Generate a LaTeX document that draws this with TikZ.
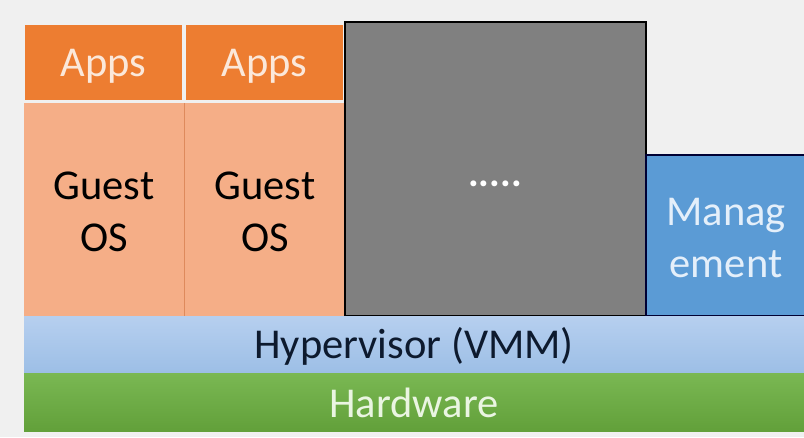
\documentclass[tikz,border=0pt]{standalone}
\usepackage{fontspec}
\setmainfont{Carlito}
\definecolor{bgc}{HTML}{F0F0F0}
\definecolor{appsc}{HTML}{ED7D31}
\definecolor{appstxt}{HTML}{FBE8DA}
\definecolor{guestc}{HTML}{F5AE87}
\definecolor{guestline}{HTML}{DE8A5C}
\definecolor{grayc}{HTML}{808080}
\definecolor{mgmtc}{HTML}{5B9BD5}
\definecolor{mgmttxt}{HTML}{E4EFFA}
\definecolor{hyptop}{HTML}{B6CFEF}
\definecolor{hypbot}{HTML}{9DBFE6}
\definecolor{hwtop}{HTML}{7AB853}
\definecolor{hwbot}{HTML}{62A03A}
\definecolor{hwtxt}{HTML}{EAF5E2}
\definecolor{navytxt}{HTML}{0D1A2E}
\begin{document}
\begin{tikzpicture}[x=1pt,y=-1pt,
  lbl/.style={font=\fontsize{42.5}{52}\selectfont,align=center,inner sep=0pt}]
\fill[bgc] (0,0) rectangle (804,437);
\useasboundingbox (0,0) rectangle (804,437);
% guest OS
\fill[guestc] (24,103) rectangle (345,316);
\draw[guestline,line width=0.8pt] (184.5,103) -- (184.5,316);
% apps
\fill[appsc] (25,25) rectangle (182,100);
\fill[appsc] (186,25) rectangle (343,100);
% gray box
\draw[fill=grayc,draw=black,line width=1.5pt] (345,22) rectangle (646,316);
% management
\draw[fill=mgmtc,draw=black!80!blue,line width=1.2pt] (646,155) rectangle (808,316);
% hypervisor
\shade[top color=hyptop,bottom color=hypbot] (24,316.8) rectangle (804,372);
% hardware
\shade[top color=hwtop,bottom color=hwbot] (24,373) rectangle (804,431);
% texts
\node[lbl,text=appstxt] (apps1) at (103.5,66) {Apps};
\node[lbl,text=appstxt] (apps2) at (264.5,66) {Apps};
\node[lbl,text=black] (guest1) at (104,212) {Guest\\OS};
\node[lbl,text=black] (guest2) at (265,212) {Guest\\OS};
\node[lbl,text=white,font=\fontsize{40}{40}\selectfont\bfseries] (dots) at (495,184) {.....};
\node[lbl,text=mgmttxt] (mgmt) at (726,238) {Manag\\ement};
\node[lbl,text=navytxt] (hyp) at (414,346) {Hypervisor (VMM)};
\node[lbl,text=hwtxt] (hw) at (414,403) {Hardware};
\end{tikzpicture}
\end{document}
